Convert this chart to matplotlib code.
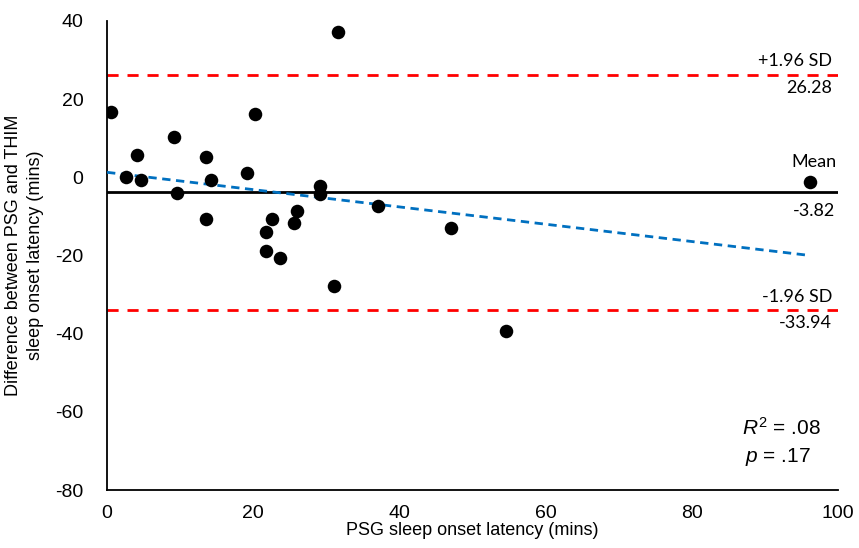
import numpy as np
import matplotlib
matplotlib.use("Agg")
import matplotlib.pyplot as plt

# ---- data ------------------------------------------------------------------
psg_sol = [0.6, 2.6, 4.1, 4.7, 9.1, 9.6, 13.6, 14.2, 13.6, 19.1, 20.2, 22.6,
           21.7, 21.7, 23.7, 26.0, 25.6, 29.1, 29.1, 31.6, 31.1, 37.1, 47.1,
           54.6, 96.2]
diff = [16.8, 0.2, 5.7, -0.8, 10.2, -3.9, 5.3, -0.8, -10.7, 1.2, 16.1, -10.7,
        -13.9, -18.8, -20.7, -8.5, -11.7, -2.1, -4.3, 37.2, -27.8, -7.3, -12.9,
        -39.3, -1.1]
MEAN = -3.82
UPPER = 26.28
LOWER = -33.94

XTICKS = [0, 20, 40, 60, 80, 100]
YTICKS = [-80, -60, -40, -20, 0, 20, 40]

LABEL_FONT = ["Lato", "DejaVu Sans"]
TICK_FONT = ["Liberation Sans", "DejaVu Sans"]

plt.rcParams["axes.unicode_minus"] = False
plt.rcParams["mathtext.fontset"] = "custom"
plt.rcParams["mathtext.rm"] = "Liberation Sans"
plt.rcParams["mathtext.it"] = "Liberation Sans:italic"

fig = plt.figure(figsize=(8.59, 5.48), dpi=100)
ax = fig.add_axes([0.1246, 0.1058, 0.851, 0.8559])
ax.set_xlim(0, 100)
ax.set_ylim(-80, 40)

# limits of agreement + mean
ax.axhline(UPPER, color="#FF0000", lw=2, ls=(0, (4, 3.2)), zorder=2)
ax.axhline(LOWER, color="#FF0000", lw=2, ls=(0, (4, 3.2)), zorder=2)
ax.axhline(MEAN, color="black", lw=2, zorder=2)

# points
ax.scatter(psg_sol, diff, s=95, color="black", zorder=4, linewidths=0)

# linear trend
x = np.array(psg_sol)
k, b = np.polyfit(x, np.array(diff), 1)
xs = np.array([0, x.max()])
ax.plot(xs, k * xs + b, color="#0070C0", lw=2, ls=(0, (3, 2)), zorder=3)

for s in ("top", "right"):
    ax.spines[s].set_visible(False)
for s in ("left", "bottom"):
    ax.spines[s].set_linewidth(1.3)

ax.set_xticks(XTICKS)
ax.set_yticks(YTICKS)
ax.tick_params(length=0, labelsize=14)
ax.tick_params(axis="y", pad=17)
ax.tick_params(axis="x", pad=11)
for lab in ax.get_xticklabels() + ax.get_yticklabels():
    lab.set_family(TICK_FONT)

ax.set_xlabel("PSG sleep onset latency (mins)", fontsize=13, family=TICK_FONT,
              labelpad=0)
ax.set_ylabel("Difference between PSG and THIM\nsleep onset latency (mins)",
              fontsize=13, family=TICK_FONT, labelpad=8, linespacing=1.4)

# annotations on the right
ax.text(99.2, UPPER + 1.4, "+1.96 SD", ha="right", va="bottom", fontsize=13,
        family=LABEL_FONT)
ax.text(99.2, UPPER - 1.4, f"{UPPER:.2f}", ha="right", va="top", fontsize=13,
        family=LABEL_FONT)
ax.text(99.8, 1.8, "Mean", ha="right", va="bottom", fontsize=13,
        family=LABEL_FONT)
ax.text(99.6, MEAN - 2.8, f"{MEAN:.2f}", ha="right", va="top", fontsize=13,
        family=LABEL_FONT)
ax.text(99.2, LOWER + 1.4, "-1.96 SD", ha="right", va="bottom", fontsize=13,
        family=LABEL_FONT)
ax.text(99.2, LOWER - 1.4, f"{LOWER:.2f}", ha="right", va="top", fontsize=13,
        family=LABEL_FONT)

ax.text(86.9, -64, r"$R^2$ = .08", ha="left", va="center", fontsize=15,
        family=TICK_FONT)
ax.text(87.3, -71.5, "$p$ = .17", ha="left", va="center", fontsize=15,
        family=TICK_FONT)

fig.savefig("out.png", dpi=100)
